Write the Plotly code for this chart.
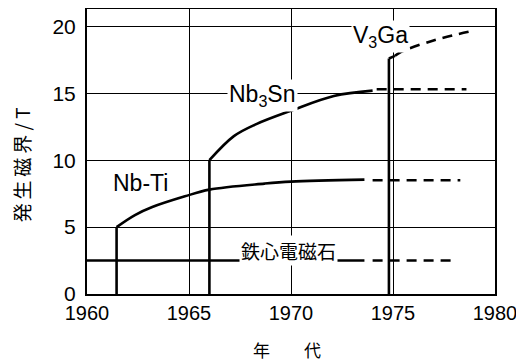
import plotly.graph_objects as go

# ---- data ----
nbti_year = [1961.45, 1962.35, 1963.2, 1964.8, 1966.0, 1968.7, 1970.0, 1973.6]
nbti_field = [5.0, 5.9, 6.5, 7.3, 7.8, 8.25, 8.4, 8.55]
nbti_future_year = [1974.0, 1978.3]
nbti_future_field = [8.5, 8.5]

nb3sn_year = [1966.0, 1967.2, 1968.3, 1970.0, 1972.1, 1974.0]
nb3sn_field = [10.0, 11.8, 12.7, 13.7, 14.8, 15.2]
nb3sn_future_year = [1974.2, 1978.6]
nb3sn_future_field = [15.3, 15.3]

v3ga_year = [1974.8, 1975.1]
v3ga_field = [17.6, 17.8]
v3ga_future_year = [1975.1, 1975.4, 1977.1, 1979.0]
v3ga_future_field = [17.8, 18.1, 19.0, 19.7]

iron_year = [1960.0, 1973.6]
iron_field = [2.5, 2.5]
iron_future_year = [1974.0, 1978.1]
iron_future_field = [2.5, 2.5]

x_ticks = [1960, 1965, 1970, 1975, 1980]
y_ticks = [0, 5, 10, 15, 20]

BLACK = "#000000"
LW = 2.6
DASH = "10px,7px"
SANS = "Liberation Sans, Arial, sans-serif"
CJK = "Noto Sans CJK JP"

fig = go.Figure()


def add(x, y, dash="solid", shape="linear"):
    fig.add_trace(go.Scatter(x=x, y=y, mode="lines",
                             line=dict(color=BLACK, width=LW, dash=dash, shape=shape),
                             showlegend=False, hoverinfo="skip"))


# vertical jumps (from 0 up to the first value of each series)
add([nbti_year[0], nbti_year[0]], [0, nbti_field[0]])
add([nb3sn_year[0], nb3sn_year[0]], [0, nb3sn_field[0]])
add([v3ga_year[0], v3ga_year[0]], [0, v3ga_field[0]])

# curves
add(nbti_year, nbti_field, shape="spline")
add(nbti_future_year, nbti_future_field, dash=DASH)
add(nb3sn_year, nb3sn_field, shape="spline")
add(nb3sn_future_year, nb3sn_future_field, dash=DASH)
add(v3ga_year, v3ga_field)
add(v3ga_future_year, v3ga_future_field, dash=DASH, shape="spline")
add(iron_year, iron_field)
add(iron_future_year, iron_future_field, dash=DASH)

label_font = dict(family=SANS, size=23, color=BLACK)
fig.add_annotation(x=1962.6, y=8.3, text="Nb-Ti", showarrow=False, font=label_font)
fig.add_annotation(x=1968.6, y=15.0, text="Nb<sub>3</sub>Sn", showarrow=False,
                   font=label_font, bgcolor="white", yshift=-2)
fig.add_annotation(x=1974.4, y=19.25, text="V<sub>3</sub>Ga", showarrow=False,
                   font=label_font, bgcolor="white")
fig.add_annotation(x=1969.9, y=3.25, text="鉄心電磁石", showarrow=False,
                   font=dict(family=CJK, size=19, color=BLACK), bgcolor="white")

# axis titles
fig.add_annotation(xref="paper", yref="paper", x=-0.162, y=0.455,
                   xanchor="center", yanchor="middle",
                   text="発\u2009生\u2009磁\u2009界 / T", textangle=-90, showarrow=False,
                   font=dict(family=CJK, size=19, color=BLACK))
fig.add_annotation(xref="x", yref="paper", x=1969.8, y=-0.196,
                   xanchor="center", yanchor="middle",
                   text="年　　代", showarrow=False,
                   font=dict(family=CJK, size=17, color=BLACK))

fig.update_xaxes(range=[1960, 1980], tickvals=x_ticks, ticktext=[str(v) for v in x_ticks],
                 showgrid=True, gridcolor=BLACK, gridwidth=1.2,
                 showline=True, linecolor=BLACK, linewidth=2, mirror=True,
                 zeroline=False, ticks="", ticklabelstandoff=0, automargin=False,
                 tickfont=dict(family=SANS, size=20, color=BLACK))
fig.update_yaxes(range=[0, 21.3], tickvals=y_ticks, ticktext=[str(v) for v in y_ticks],
                 showgrid=True, gridcolor=BLACK, gridwidth=1.2,
                 showline=True, linecolor=BLACK, linewidth=2, mirror=True,
                 zeroline=False, ticks="", ticklabelstandoff=5, automargin=False,
                 tickfont=dict(family=SANS, size=21, color=BLACK))

# the page places the figure 8px from the top-left corner of the window
fig.update_layout(width=516, height=354,
                  margin=dict(l=79, r=29, t=1, b=68),
                  plot_bgcolor="white", paper_bgcolor="white")

fig.write_html("out.html")
